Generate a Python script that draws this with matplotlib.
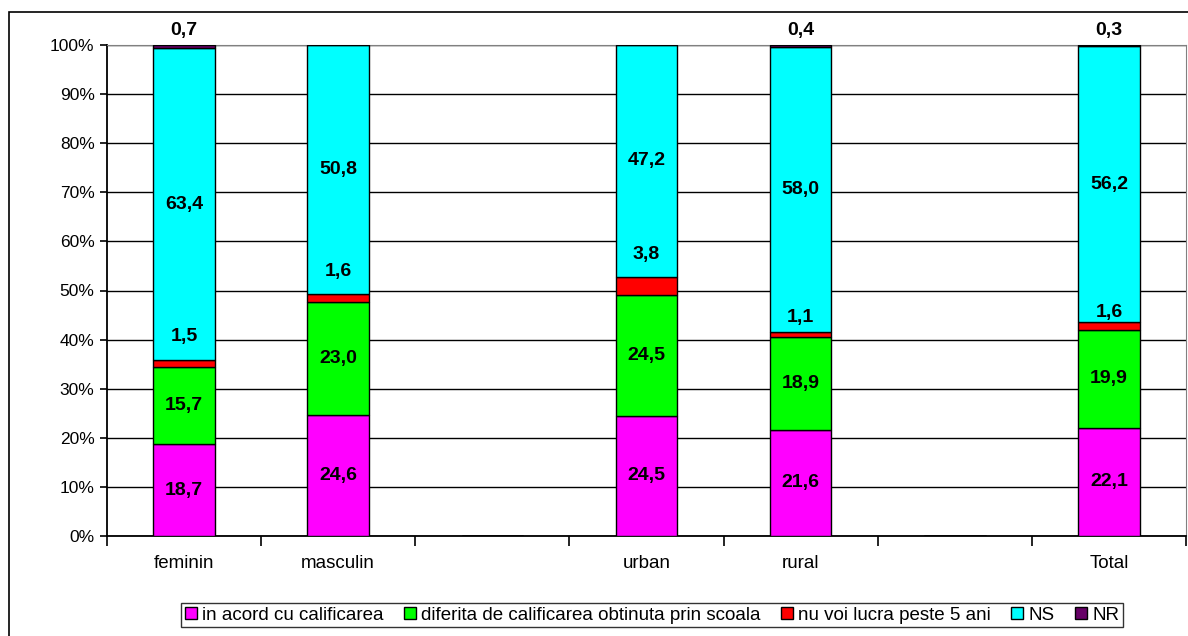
import matplotlib
matplotlib.use("Agg")
import matplotlib.pyplot as plt
import matplotlib.patches as mpatches
from matplotlib.ticker import FixedLocator, PercentFormatter
import numpy as np

plt.rcParams['font.family'] = ['Liberation Sans', 'DejaVu Sans']

# categories (empty slots are gaps in the original chart)
categories = ['feminin', 'masculin', '', 'urban', 'rural', '', 'Total']
series_names = ['in acord cu calificarea',
                'diferita de calificarea obtinuta prin scoala',
                'nu voi lucra peste 5 ani', 'NS', 'NR']
in_acord = [18.7, 24.6, np.nan, 24.5, 21.6, np.nan, 22.1]
diferita = [15.7, 23.0, np.nan, 24.5, 18.9, np.nan, 19.9]
nu_lucra = [1.5, 1.6, np.nan, 3.8, 1.1, np.nan, 1.6]
ns = [63.4, 50.8, np.nan, 47.2, 58.0, np.nan, 56.2]
nr = [0.7, 0.0, np.nan, 0.0, 0.4, np.nan, 0.3]
colors = ['#FF00FF', '#00FF00', '#FF0000', '#00FFFF', '#660066']

# label lift for the thin red segment (in % points above segment top)
red_lift = [4.8, 4.6, np.nan, 4.6, 2.8, np.nan, 2.0]

data = np.array([in_acord, diferita, nu_lucra, ns, nr])
shares = data / np.nansum(data, axis=0) * 100

fig = plt.figure(figsize=(11.88, 6.36), dpi=100)
W, H = 1188, 636
ax = fig.add_axes([107 / W, (H - 536) / H, (1186 - 107) / W, (536 - 45) / H])

# outer chart border
fig.patches.append(mpatches.Rectangle((9 / W, -0.1), 1.2, (H - 12) / H + 0.1,
                                      transform=fig.transFigure, fill=False,
                                      edgecolor='black', linewidth=1.2))

x = np.arange(len(categories))
bottom = np.zeros(len(categories))
for i, (name, c) in enumerate(zip(series_names, colors)):
    vals = np.nan_to_num(shares[i])
    ax.bar(x, vals, 0.4, bottom=bottom, color=c, edgecolor='black',
           linewidth=1.0, label=name, zorder=3)
    for j in range(len(x)):
        if np.isnan(data[i, j]) or data[i, j] == 0:
            continue
        txt = f"{data[i, j]:.1f}".replace('.', ',')
        if i == 4:
            y = 102.9
        elif i == 2:
            y = bottom[j] + vals[j] + red_lift[j]
        else:
            y = bottom[j] + vals[j] / 2
        ax.text(x[j], y, txt, ha='center', va='center', fontsize=14,
                fontweight='bold', zorder=5, clip_on=False)
    bottom += vals

ax.set_xlim(-0.5, len(categories) - 0.5)
ax.set_ylim(0, 100)
ax.yaxis.set_major_locator(FixedLocator(np.arange(0, 101, 10)))
ax.yaxis.set_major_formatter(PercentFormatter(decimals=0))
ax.grid(axis='y', color='black', linewidth=1.0, zorder=0)
ax.set_axisbelow(True)

ax.set_xticks(np.arange(-0.5, len(categories), 1.0))
ax.set_xticklabels([])
ax.set_xticks(x, minor=True)
ax.set_xticklabels(categories, minor=True, fontsize=13.5)
ax.tick_params(axis='x', which='major', direction='out', length=7, width=1.2)
ax.tick_params(axis='x', which='minor', length=0, pad=14)
ax.tick_params(axis='y', direction='out', length=5, width=1.2, labelsize=12.5, pad=4)

for s in ['top', 'right']:
    ax.spines[s].set_color('#808080')
for s in ['left', 'bottom']:
    ax.spines[s].set_color('black')
    ax.spines[s].set_linewidth(1.3)

handles = [mpatches.Patch(facecolor=c, edgecolor='black', linewidth=1.0) for c in colors]
leg = fig.legend(handles, series_names, loc='center', ncol=5,
                 bbox_to_anchor=(652 / W, (H - 615) / H), frameon=True,
                 fancybox=False, edgecolor='black', fontsize=13.5,
                 handlelength=0.65, handleheight=0.65, handletextpad=0.3,
                 columnspacing=1.05, borderpad=0.2, borderaxespad=0)
leg.get_frame().set_linewidth(1.0)

fig.savefig('out.png', dpi=100, facecolor='white')
